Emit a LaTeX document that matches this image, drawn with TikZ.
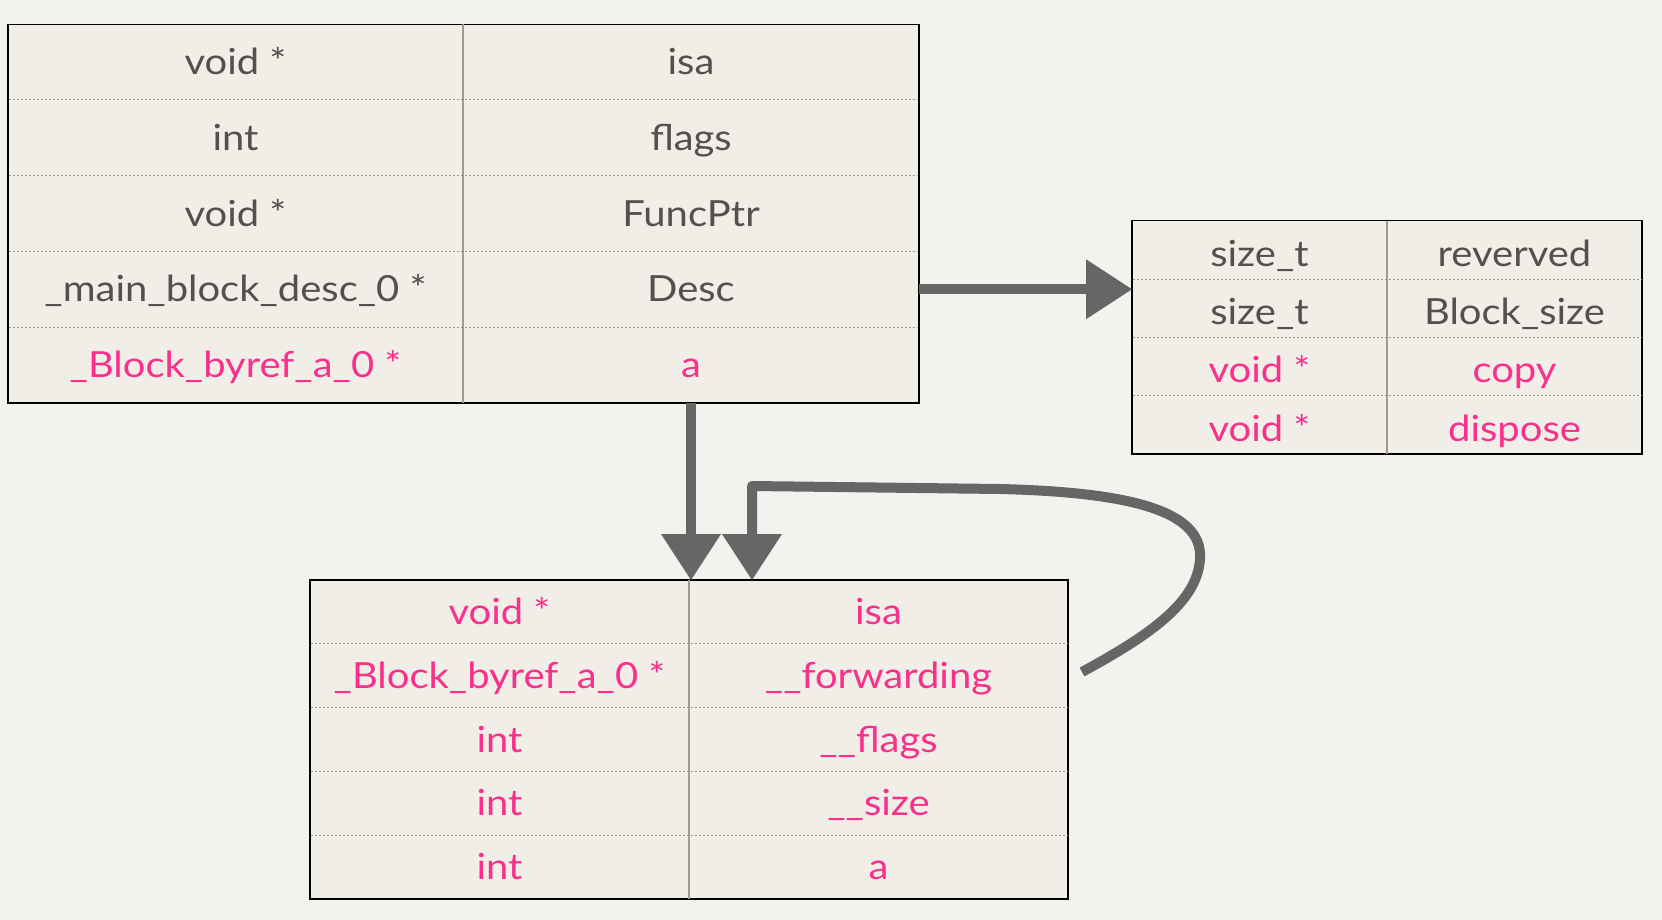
\documentclass[tikz,border=0pt]{standalone}
\usepackage{fontspec}
\setmainfont{Lato}[FakeStretch=1.11]
\usetikzlibrary{arrows.meta}
\definecolor{bg}{RGB}{242,242,239}
\definecolor{cellfill}{RGB}{240,238,230}
\definecolor{txtgray}{RGB}{84,80,75}
\definecolor{pinktxt}{RGB}{250,48,140}
\definecolor{divcol}{RGB}{160,154,138}
\definecolor{sepcol}{RGB}{150,150,145}
\definecolor{arrowcol}{RGB}{102,102,102}
\begin{document}
\begin{tikzpicture}[x=1pt,y=-1pt,
  tbl/.style={draw=black, line width=1.5pt, fill=cellfill, inner sep=0pt, outer sep=0pt},
  cell/.style={inner sep=0pt, outer sep=0pt},
  lbl/.style={anchor=base, inner sep=0pt, font=\fontsize{36}{40}\selectfont, text=txtgray},
  plbl/.style={lbl, text=pinktxt},
  coldiv/.style={draw=divcol, line width=1.2pt},
  rowsep/.style={draw=sepcol, line width=1pt, dash pattern=on 2pt off 2pt},
  arr/.style={draw=arrowcol, line width=10pt, line join=round,
    -{Triangle[length=46pt,width=60pt,line width=0pt]}},
]
\useasboundingbox (0,0) rectangle (1662,920);
\fill[bg] (0,0) rectangle (1662,920);

% ---------- Table 1 ----------
\node[tbl, minimum width=911pt, minimum height=378.7pt] (T1) at (463.5,213.65) {};
\draw[coldiv] (463,24.3) -- (463,403);
\foreach \y in {100,175.6,251.3,327} \draw[rowsep] (8.8,\y) -- (918.2,\y);
\node[cell, minimum width=456pt, minimum height=75.7pt] (c14) at (691,289.25) {};
\node[cell, minimum width=456pt, minimum height=75.7pt] (c15) at (691,364.95) {};
\node[lbl]  (t1a1) at (235.5,74.6)  {void *};
\node[lbl]  (t1b1) at (691,74.6)    {isa};
\node[lbl]  (t1a2) at (235.5,150.3) {int};
\node[lbl]  (t1b2) at (691,150.3)   {flags};
\node[lbl]  (t1a3) at (235.5,226)   {void *};
\node[lbl]  (t1b3) at (691,226)     {FuncPtr};
\node[lbl]  (t1a4) at (235.5,301.7) {\_main\_block\_desc\_0 *};
\node[lbl]  (t1b4) at (691,301.7)   {Desc};
\node[plbl] (t1a5) at (235.5,377.4) {\_Block\_byref\_a\_0 *};
\node[plbl] (t1b5) at (691,377.4)   {a};

% ---------- Table 2 ----------
\node[tbl, minimum width=510pt, minimum height=233.3pt] (T2) at (1387,337.35) {};
\draw[coldiv] (1387,220.7) -- (1387,454);
\foreach \y in {279,337.3,395.7} \draw[rowsep] (1132.8,\y) -- (1641.2,\y);
\node[lbl]  (t2a1) at (1259.5,266)  {size\_t};
\node[lbl]  (t2b1) at (1514.5,266)  {reverved};
\node[lbl]  (t2a2) at (1259.5,324.4){size\_t};
\node[lbl]  (t2b2) at (1514.5,324.4){Block\_size};
\node[plbl] (t2a3) at (1259.5,382.7){void *};
\node[plbl] (t2b3) at (1514.5,382.7){copy};
\node[plbl] (t2a4) at (1259.5,441)  {void *};
\node[plbl] (t2b4) at (1514.5,441)  {dispose};

% ---------- Table 3 ----------
\node[tbl, minimum width=758pt, minimum height=319pt] (T3) at (689,739.5) {};
\draw[coldiv] (689,580) -- (689,899);
\foreach \y in {643.8,707.6,771.4,835.2} \draw[rowsep] (310.8,\y) -- (1067.2,\y);
\node[cell, minimum width=379pt, minimum height=63.8pt] (c32) at (878.5,675.7) {};
\node[plbl] (t3a1) at (499.5,624.4) {void *};
\node[plbl] (t3b1) at (878.5,624.4) {isa};
\node[plbl] (t3a2) at (499.5,688.2) {\_Block\_byref\_a\_0 *};
\node[plbl] (t3b2) at (878.5,688.2) {\_\_forwarding};
\node[plbl] (t3a3) at (499.5,752)   {int};
\node[plbl] (t3b3) at (878.5,752)   {\_\_flags};
\node[plbl] (t3a4) at (499.5,815.8) {int};
\node[plbl] (t3b4) at (878.5,815.8) {\_\_size};
\node[plbl] (t3a5) at (499.5,879.6) {int};
\node[plbl] (t3b5) at (878.5,879.6) {a};

% ---------- Arrows ----------
\draw[arr] (c14.east) -- (c14.east -| T2.west);
\draw[arr] (c15.south) -- (c15.south |- T3.north);
\coordinate (s3) at (1082,672);
\coordinate (e3) at (752,580);
\draw[arr] (s3) .. controls (1150,635) and (1202,600) .. (1200,553)
  .. controls (1197,508) and (1120,492) .. (1000,489) -- (752,486) -- (e3);
\end{tikzpicture}
\end{document}
